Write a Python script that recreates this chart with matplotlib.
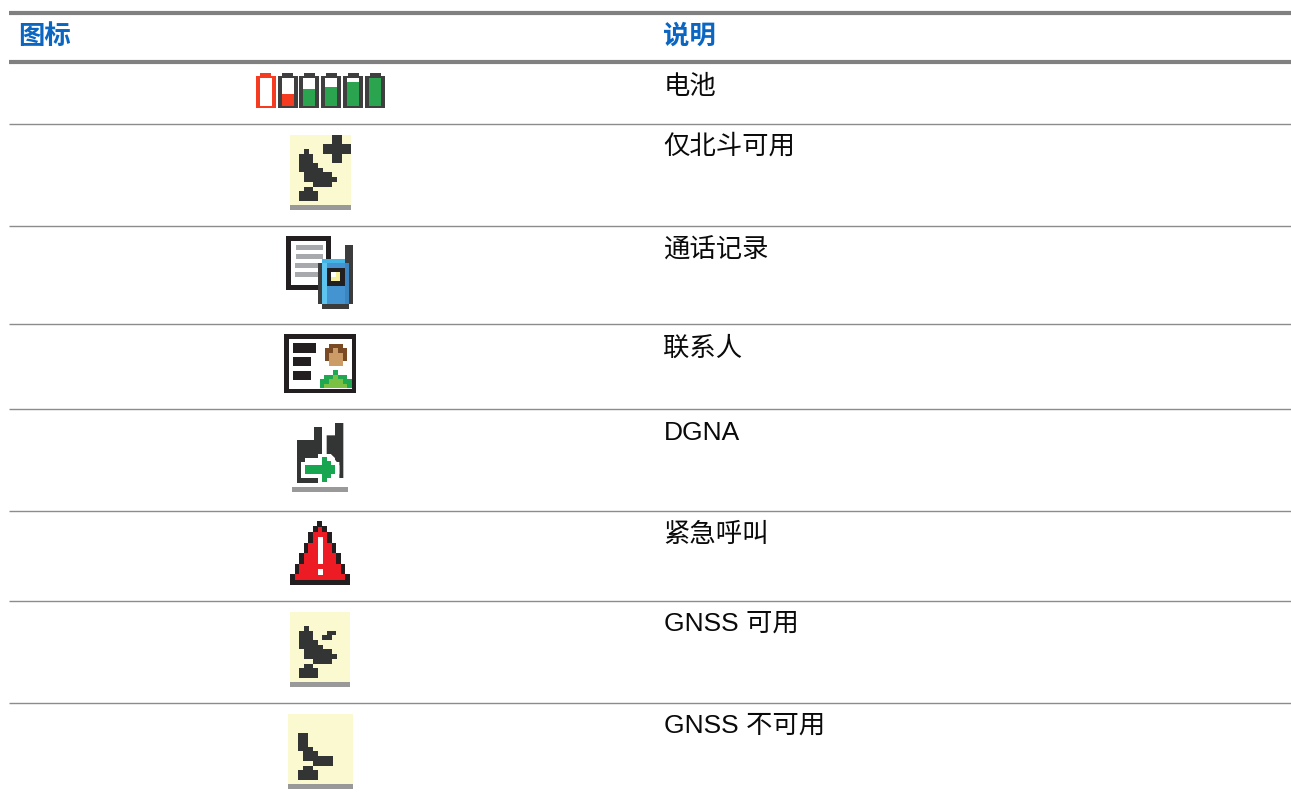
import matplotlib
matplotlib.use("Agg")
import matplotlib.pyplot as plt
from matplotlib.patches import Polygon, Rectangle

# table text
headers = ["图标", "说明"]
descriptions = ["电池", "仅北斗可用", "通话记录", "联系人", "DGNA", "紧急呼叫", "GNSS 可用", "GNSS 不可用"]
text_baselines = [94, 154, 258, 356, 440, 542, 631, 733]
row_lines = [124, 226, 324, 409, 511, 601, 703]

# battery icon: x start of each cell and the top of the fill
battery_x = [255.5, 277.5, 299, 321, 343, 365]
battery_fill_top = [None, 94, 89, 87, 82, 78]

# icon shapes, drawn in zoomed pixels (3x) and scaled down when placed
dish = [(102,72),(117,72),(117,86),(129,86),(129,114),(143,114),(143,128),(158,128),(158,142),(186,142),
        (186,156),(201,156),(201,171),(186,171),(186,186),(129,186),(129,171),(102,171),(102,142),(87,142),(87,86),(102,86)]
dish_base = [(102,186),(129,186),(129,198),(144,198),(144,228),(87,228),(87,198),(102,198)]
plus = [(186,30),(216,30),(216,57),(243,57),(243,86),(216,86),(216,114),(186,114),(186,86),(159,86),(159,57),(186,57)]
signal = [(171,87),(198,87),(198,99),(186,99),(186,114),(156,114),(156,99),(171,99)]
dish_off = [(84,75),(114,75),(114,117),(129,117),(129,129),(144,129),(144,144),(189,144),(189,174),(129,174),
            (129,159),(99,159),(99,129),(84,129)]
dish_off_base = [(99,174),(129,174),(129,186),(144,186),(144,216),(84,216),(84,186),(99,186)]

left_radio = [(81,84),(132,84),(132,45),(157,45),(157,126),(145,126),(145,138),(106,138),(106,198),(145,198),
              (145,212),(81,212)]
right_radio = [(170,70),(195,70),(195,33),(220,33),(220,198),(208,198),(208,150),(195,150),(195,138),(182,126),(170,126)]
arrow = [(106,160),(157,160),(157,135),(170,135),(170,147),(182,147),(182,160),(195,160),(195,186),(182,186),
         (182,198),(170,198),(170,210),(157,210),(157,186),(106,186)]
arrow_halo = [(93,150),(145,150),(145,126),(182,126),(208,160),(208,186),(182,220),(145,220),(145,198),(93,198)]

warn_outer = [(142,27),(157,27),(157,42),(171,42),(171,60),(185,60),(185,93),(198,93),(198,124),(212,124),(212,156),
              (226,156),(226,186),(240,186),(240,219),(61,219),(61,186),(75,186),(75,156),(87,156),(87,124),(102,124),
              (102,93),(114,93),(114,60),(129,60),(129,42),(142,42)]
warn_inner = [(143,44),(156,44),(156,60),(171,60),(171,93),(185,93),(185,124),(198,124),(198,156),(212,156),(212,186),
              (226,186),(226,204),(74,204),(74,186),(87,186),(87,156),(102,156),(102,124),(114,124),(114,93),(129,93),
              (129,60),(143,60)]

body_dark = [(190,136),(205,136),(205,150),(232,150),(232,163),(245,163),(245,190),(150,190),(150,163),(163,163),(163,150),(190,150)]
body_light = [(163,190),(163,176),(177,176),(177,163),(190,163),(190,150),(205,150),(205,163),(219,163),(219,176),(232,176),(232,190)]
hair = [(177,57),(219,57),(219,70),(232,70),(232,108),(219,108),(219,84),(177,84),(177,108),(164,108),(164,70),(177,70)]
face = [(190,70),(205,70),(205,84),(219,84),(219,122),(177,122),(177,84),(190,84)]

DARK = "#333535"
BLACK = "#231f20"
PALE = "#fbf9d0"
BAR = "#999999"
BLUE = "#0b66c2"
font = ["Liberation Sans", "Noto Sans CJK SC"]

fig = plt.figure(figsize=(12.91, 7.99), dpi=100)
ax = fig.add_axes([0, 0, 1, 1])
ax.set_xlim(0, 1291)
ax.set_ylim(799, 0)
ax.axis("off")


def poly(points, ox, oy, color, z=3):
    ax.add_patch(Polygon([(ox + x / 3, oy + y / 3) for x, y in points], closed=True, fc=color, ec="none", zorder=z))


def box(x0, y0, x1, y1, ox, oy, color, z=3):
    ax.add_patch(Rectangle((ox + x0 / 3, oy + y0 / 3), (x1 - x0) / 3, (y1 - y0) / 3, fc=color, ec="none", zorder=z))


# table rules
ax.hlines([13, 62], 9, 1291, color="#808080", lw=3)
ax.hlines(row_lines, 9, 1291, color="#8c8c8c", lw=1)

for x, label in zip([18, 663], headers):
    ax.text(x, 44, label, color=BLUE, fontsize=19, fontweight="bold", family=font, va="baseline")
for y, label in zip(text_baselines, descriptions):
    ax.text(663.5, y, label, color="#0a0a0a", fontsize=19, family=font, va="baseline")

# batteries
for x, top in zip(battery_x, battery_fill_top):
    edge = "#f53b20" if top is None else "#3f3f3f"
    ax.add_patch(Rectangle((x + 4.5, 73), 11, 4, fc=edge, ec="none", zorder=3))
    ax.add_patch(Rectangle((x, 76), 20, 32, fc=edge, ec="none", zorder=3))
    ax.add_patch(Rectangle((x + 4, 78), 12, 28, fc="white", ec="none", zorder=4))
    if top is not None:
        fill = "#f53b20" if top == 94 else "#2aa44f"
        ax.add_patch(Rectangle((x + 4, top), 12, 106 - top, fc=fill, ec="none", zorder=5))

# satellite with plus
box(60, 30, 243, 240, 270, 125, PALE)
box(60, 240, 243, 255, 270, 125, BAR)
for shape in (dish, dish_base, plus):
    poly(shape, 270, 125, DARK, 4)

# call log
ox, oy = 270, 228
box(48, 24, 183, 186, ox, oy, BLACK)
box(63, 39, 168, 171, ox, oy, "white")
for x0, y0 in zip([78, 78, 75, 75], [51, 78, 105, 132]):
    box(x0, y0, 159, y0 + 15, ox, oy, "#a8a9ad")
box(225, 52, 250, 110, ox, oy, "#3c3c3c", 5)
box(144, 105, 250, 228, ox, oy, "#3c3c3c", 5)
box(157, 93, 225, 228, ox, oy, "#4394d0", 6)
box(157, 93, 225, 105, ox, oy, "#45b5e6", 6)
box(157, 105, 170, 228, ox, oy, "#5cc4ee", 6)
box(225, 105, 238, 228, ox, oy, "#3d85c0", 6)
box(170, 120, 225, 174, ox, oy, BLACK, 7)
box(183, 132, 210, 160, ox, oy, "#f6ef9c", 8)
box(183, 132, 197, 146, ox, oy, "white", 9)
box(156, 228, 237, 243, ox, oy, "#3c3c3c", 6)

# contacts
ox, oy = 270, 325
box(42, 27, 258, 204, ox, oy, BLACK)
box(57, 42, 245, 192, ox, oy, "white", 4)
box(69, 54, 138, 84, ox, oy, BLACK, 5)
box(69, 96, 123, 123, ox, oy, BLACK, 5)
box(69, 138, 123, 165, ox, oy, BLACK, 5)
poly(hair, ox, oy, "#7a4a24", 5)
poly(face, ox, oy, "#cc9c66", 6)
poly(body_dark, ox, oy, "#1fa850", 5)
poly(body_light, ox, oy, "#7ac143", 6)

# DGNA
ox, oy = 270, 412
poly(left_radio, ox, oy, DARK)
poly(right_radio, ox, oy, DARK)
poly(arrow_halo, ox, oy, "white", 4)
box(81, 198, 145, 212, ox, oy, DARK, 5)
box(81, 138, 93, 212, ox, oy, DARK, 5)
poly(arrow, ox, oy, "#18a550", 6)
box(66, 225, 234, 240, ox, oy, BAR)

# emergency
ox, oy = 270, 512
poly(warn_outer, ox, oy, BLACK)
poly(warn_inner, ox, oy, "#ed1c24", 4)
box(143, 75, 159, 156, ox, oy, "white", 5)
box(143, 171, 159, 189, ox, oy, "white", 5)

# GNSS available
ox, oy = 270, 602
box(60, 30, 240, 240, ox, oy, PALE)
box(60, 240, 240, 255, ox, oy, BAR)
for shape in (dish, dish_base, signal):
    poly(shape, ox, oy, DARK, 4)

# GNSS not available
ox, oy = 270, 708
box(54, 18, 249, 228, ox, oy, PALE)
box(54, 228, 249, 243, ox, oy, BAR)
poly(dish_off, ox, oy, DARK, 4)
poly(dish_off_base, ox, oy, DARK, 4)

fig.savefig("out.png", dpi=100)
